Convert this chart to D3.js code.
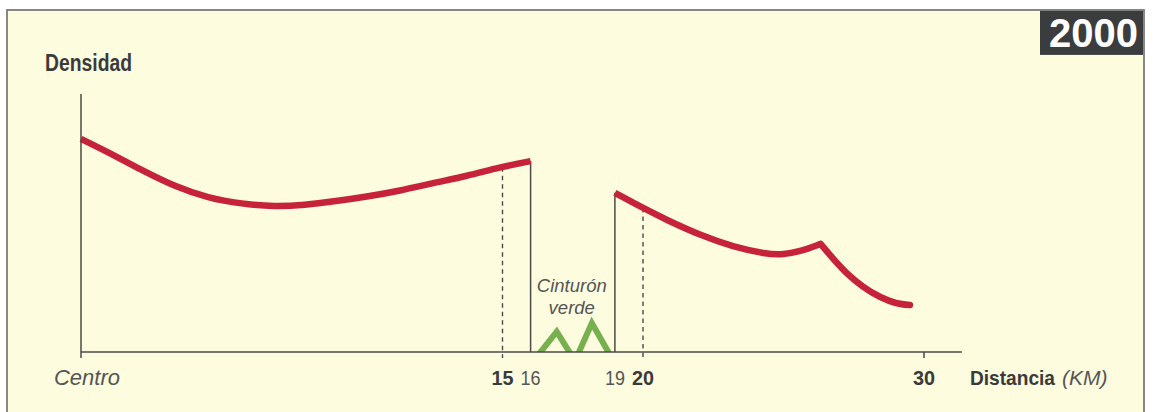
<!DOCTYPE html>
<html><head><meta charset="utf-8">
<script src="https://cdn.jsdelivr.net/npm/d3@7"></script>
<style>
body{margin:0;background:#fff;}
svg{display:block;}
text{font-family:"Liberation Sans",Arial,Helvetica,sans-serif;}
</style></head>
<body><svg id="c" width="1155" height="412"></svg>
<script>
// ---- data ----
const yearLabel = "2000";
const yTitle = "Densidad";
const xTitle = "Distancia";
const xUnit = "(KM)";
const beltLabel = ["Cinturón", "verde"];
const tickValues = [0, 15, 16, 19, 20, 30];
const tickLabels = ["Centro", "15", "16", "19", "20", "30"];
const majorTicks = [15, 20, 30];
const dashedMarks = [15, 20];
const beltEdges = [16, 19];
// density profile (relative units), inner city 0-16 km
const innerKm  = [0, 0.96, 2.16, 3.35, 4.52, 5.72, 6.9, 7.97, 8.97, 10.17, 11.35, 12.53, 13.73, 14.91, 16];
const innerDen = [82.6, 77.5, 70.5, 64.1, 59.7, 57.4, 56.3, 57.0, 58.3, 60.2, 62.5, 65.5, 68.2, 71.6, 74.0];
// outer ring 19-29.5 km
const outerKm  = [19, 20, 20.84, 22.03, 23.2, 24.4, 24.88, 25.59, 26.32];
const outerDen = [61.7, 55.8, 51.2, 45.3, 40.8, 38.0, 37.6, 38.9, 41.9];
const edgeKm   = [26.32, 27.25, 28.43, 29.0, 29.5];
const edgeDen  = [41.9, 30.6, 21.4, 19.0, 18.2];
// green belt hills
const hillKm  = [16.1, 16.93, 17.58, 18.18, 18.95];
const hillDen = [-3.5, 7.9, -3.5, 11.2, -3.5];
const xMax = 31.35, yMax = 100;

// ---- chart ----
const svg = d3.select("#c");
const x = d3.scaleLinear().domain([0, 30]).range([81, 924]);
const y = d3.scaleLinear().domain([0, yMax]).range([352, 94]);
const axisCol = "#4a4a4a";
const darkTxt = "#3a3a3a", greyTxt = "#555";

svg.append("rect").attr("x", 7).attr("y", 10).attr("width", 1137).attr("height", 420)
  .attr("fill", "#fdfcdf").attr("stroke", "#7a7a7a").attr("stroke-width", 1.8);

// year badge
svg.append("rect").attr("x", 1040).attr("y", 10.9).attr("width", 103).attr("height", 44).attr("fill", "#3b3c3e");
svg.append("text").attr("x", 1138).attr("y", 47).attr("text-anchor", "end")
  .attr("font-weight", "bold").attr("font-size", 40).attr("fill", "#fff").text(yearLabel);

// y title
svg.append("text").attr("x", 45).attr("y", 70.5)
  .attr("font-size", 23).attr("font-weight", "bold").attr("fill", darkTxt)
  .attr("textLength", 87).attr("lengthAdjust", "spacingAndGlyphs").text(yTitle);

const smooth = (k, d, c) => d3.line().x((_, i) => x(k[i])).y((_, i) => y(d[i])).curve(c)(k);

// dashed guide lines
const dashVals = [innerDen[13], outerDen[1]];
dashedMarks.forEach((km, i) => {
  svg.append("line").attr("x1", x(km)).attr("x2", x(km)).attr("y1", y(dashVals[i])).attr("y2", y(0) + 6)
    .attr("stroke", axisCol).attr("stroke-width", 1.4).attr("stroke-dasharray", "4.5,4");
});
// belt edges
const edgeVals = [innerDen[innerDen.length - 1], outerDen[0]];
beltEdges.forEach((km, i) => {
  svg.append("line").attr("x1", x(km)).attr("x2", x(km)).attr("y1", y(edgeVals[i])).attr("y2", y(0))
    .attr("stroke", axisCol).attr("stroke-width", 1.5);
});

// green hills clipped at axis
svg.append("clipPath").attr("id", "clipAx").append("rect")
  .attr("x", 0).attr("y", 0).attr("width", 1155).attr("height", y(0));
svg.append("path").attr("clip-path", "url(#clipAx)")
  .attr("d", smooth(hillKm, hillDen, d3.curveLinear))
  .attr("fill", "none").attr("stroke", "#76b04f").attr("stroke-width", 6).attr("stroke-linejoin", "miter");

// belt label
beltLabel.forEach((t, i) => {
  svg.append("text").attr("x", x(17.5) - 1).attr("y", 292 + i * 22).attr("text-anchor", "middle")
    .attr("font-style", "italic").attr("font-size", 18.5).attr("fill", greyTxt).text(t);
});

// red density lines
const red = "#c6233a";
const sw = 6.5;
svg.append("path").attr("d", smooth(innerKm, innerDen, d3.curveBasis)).attr("fill", "none").attr("stroke", red).attr("stroke-width", sw);
svg.append("path").attr("d", smooth(outerKm, outerDen, d3.curveBasis)).attr("fill", "none").attr("stroke", red).attr("stroke-width", sw);
svg.append("path").attr("d", smooth(edgeKm, edgeDen, d3.curveMonotoneX)).attr("fill", "none").attr("stroke", red).attr("stroke-width", sw)
  .attr("stroke-linecap", "round");

// axes
svg.append("line").attr("x1", x(0)).attr("x2", x(0)).attr("y1", y(yMax)).attr("y2", y(0) + 6)
  .attr("stroke", axisCol).attr("stroke-width", 1.5);
svg.append("line").attr("x1", x(0)).attr("x2", x(xMax)).attr("y1", y(0)).attr("y2", y(0))
  .attr("stroke", axisCol).attr("stroke-width", 1.5);
svg.append("line").attr("x1", x(30)).attr("x2", x(30)).attr("y1", y(0)).attr("y2", y(0) + 6)
  .attr("stroke", axisCol).attr("stroke-width", 1.5);

// tick labels
tickValues.forEach((v, i) => {
  const t = svg.append("text").attr("y", 385).attr("text-anchor", "middle").text(tickLabels[i]);
  if (v === 0) {
    t.attr("x", x(v) + 6).attr("font-style", "italic").attr("font-size", 22).attr("fill", greyTxt);
  } else if (majorTicks.includes(v)) {
    t.attr("x", x(v)).attr("font-weight", "bold").attr("font-size", 21).attr("fill", darkTxt)
      .attr("textLength", 22).attr("lengthAdjust", "spacingAndGlyphs");
  } else {
    t.attr("x", x(v)).attr("font-size", 21).attr("fill", greyTxt)
      .attr("textLength", 20).attr("lengthAdjust", "spacingAndGlyphs");
  }
});

// x title
svg.append("text").attr("x", 970).attr("y", 385).attr("font-size", 21).attr("font-weight", "bold")
  .attr("fill", darkTxt).attr("textLength", 85).attr("lengthAdjust", "spacingAndGlyphs").text(xTitle);
svg.append("text").attr("x", 1062).attr("y", 385).attr("font-size", 21).attr("font-style", "italic")
  .attr("fill", greyTxt).text(xUnit);
</script></body></html>
